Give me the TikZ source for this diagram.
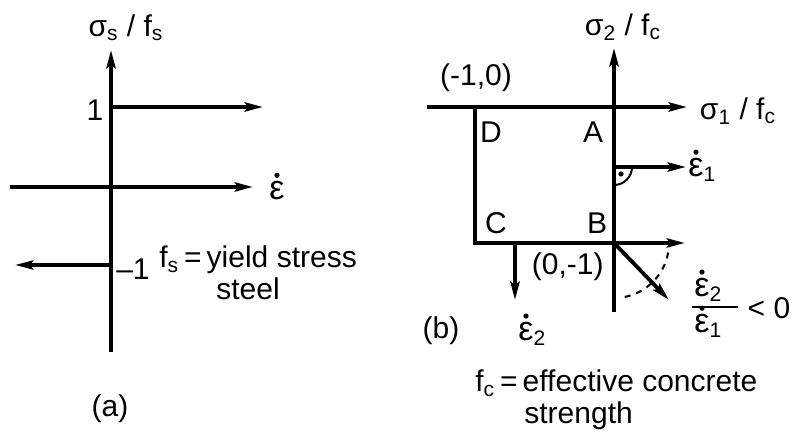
\documentclass[tikz,border=0pt]{standalone}
\usepackage{fontspec}
\setmainfont{Liberation Sans}
\usetikzlibrary{arrows.meta,calc}

\newcommand{\eps}{{\fontsize{17}{17}\selectfont ε}}

\tikzset{
  axis/.style={line width=1.9pt, -{Stealth[length=9pt,width=4.5pt,inset=1.5pt]}},
  lbl/.style={font=\fontsize{15}{17}\selectfont, inner sep=1pt},
  rate/.style={lbl, anchor=west},
  txt/.style={lbl, anchor=base west},
}

\begin{document}
\begin{tikzpicture}[x=0.5pt, y=-0.5pt]
\useasboundingbox (0,0) rectangle (793,448);

% (a) steel
\coordinate (O) at (111,187);
\draw[axis] (111,352) -- (111,50);
\draw[axis] (10,187) -- (253,187);
\draw[axis] (111,107) coordinate (up) -- (263,107);
\draw[axis] (111,265) coordinate (dn) -- (15,265);
\node[lbl] (sy) at (126,28) {σ\textsubscript{s} / f\textsubscript{s}};
\node[lbl] (one) at (95,110) {1};
\node[lbl] (mone) at (133,269) {–1};
\node[rate] (ea) at (267,191) {\eps};
\node[txt] (fs) at (157,268) {f\textsubscript{s}\,=\,yield stress};
\node[txt] (steel) at (214,300) {steel};
\node[lbl] (a) at (110,409) {(a)};

% (b) concrete
\coordinate (A) at (614,107);
\coordinate (B) at (614,243);
\coordinate (C) at (475,243);
\coordinate (D) at (475,107);
\draw[axis] (614,312) -- (614,48);
\draw[axis] (427,107) -- (687,107);
\draw[line width=1.9pt] (D) -- (C) -- (B);
\foreach \p/\dx/\dy in {A/-21/25,B/-17/-20,C/21/-20,D/16/25}
  \node[lbl] at ($(\p)+(\dx,\dy)$) {\p};
\coordinate (E1) at (614,167);
\draw[axis] (E1) -- (686,167);
\draw[line width=1pt] ($(E1)+(18,0)$) arc[start angle=0, end angle=90, radius=18];
\fill ($(E1)+(7,7)$) circle (1.3pt);
\draw[axis] (B) -- (685,243);
\draw[axis] (B) -- (669,300);
\draw[axis] (515,243) -- (515,300);
\draw[dashed, line width=1pt] ($(B)+(10:55)$) arc[start angle=10, end angle=85, radius=55];
\node[lbl] (s2) at (623,27) {σ\textsubscript{2} / f\textsubscript{c}};
\node[lbl] (s1) at (738,111) {σ\textsubscript{1} / f\textsubscript{c}};
\node[rate] (e1) at (686,170) {\eps\textsubscript{1}};
\node[rate] (e2) at (516,334) {\eps\textsubscript{2}};
\node[rate] (num) at (692,290) {\eps\textsubscript{2}};
\node[rate] (den) at (692,326) {\eps\textsubscript{1}};
\draw[line width=1.2pt] (692,307) -- (738,307);
\node[lbl] (lt) at (769,308) {< 0};
\foreach \e in {ea,e1,e2,num,den}
  \fill ($(\e.north west)+(10,-4)$) circle (1.3pt);
\node[lbl] (m10) at (476,78) {(-1,0)};
\node[lbl, anchor=east] (m01) at (606,267) {(0,-1)};
\node[lbl] (b) at (441,331) {(b)};
\node[txt] (fc) at (473,392) {f\textsubscript{c}\,=\,effective concrete};
\node[txt] (str) at (522,424) {strength};
\end{tikzpicture}
\end{document}
